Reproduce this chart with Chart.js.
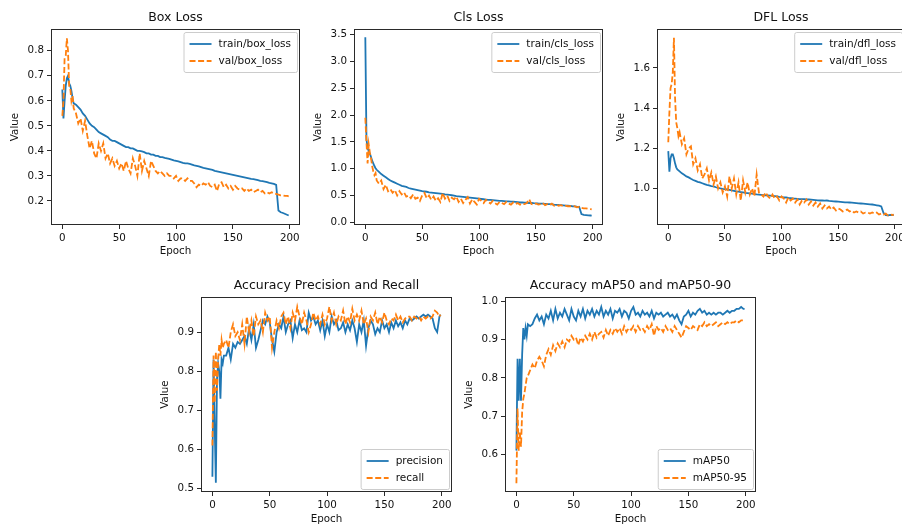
<!DOCTYPE html>
<html>
<head>
<meta charset="utf-8">
<script src="https://cdn.jsdelivr.net/npm/chart.js@4.4.1/dist/chart.umd.min.js"></script>
<style>
body { margin: 0; background: #fff; }
#figura { position: relative; width: 902px; height: 529px; overflow: hidden; background: #fff; }
#figura canvas { position: absolute; }
</style>
</head>
<body>
<div id="figura"></div>
<script>
// epocas leidas (cada una al inicio, luego cada 2)
var epochs = [0,1,2,3,4,5,6,7,8,9,10,
  12,14,16,18,20,22,24,26,28,30,
  32,34,36,38,40,42,44,46,48,50,
  52,54,56,58,60,62,64,66,68,70,
  72,74,76,78,80,82,84,86,88,90,
  92,94,96,98,100,102,104,106,108,110,
  112,114,116,118,120,122,124,126,128,130,
  132,134,136,138,140,142,144,146,148,150,
  152,154,156,158,160,162,164,166,168,170,
  172,174,176,178,180,182,184,186,188,190,
  192,194,196,198,199]

var train_box_loss = [0.645,0.53,0.60,0.66,0.69,0.70,0.67,0.66,0.64,0.61,0.59,
  0.585,0.575,0.565,0.55,0.54,0.525,0.51,0.50,0.495,0.485,
  0.475,0.47,0.465,0.46,0.455,0.445,0.44,0.44,0.435,0.43,
  0.425,0.42,0.415,0.415,0.41,0.41,0.405,0.40,0.40,0.398,
  0.395,0.39,0.39,0.385,0.385,0.38,0.38,0.375,0.375,0.372,
  0.37,0.368,0.365,0.362,0.36,0.358,0.355,0.352,0.35,0.35,
  0.348,0.345,0.342,0.34,0.338,0.335,0.332,0.33,0.328,0.326,
  0.324,0.32,0.318,0.316,0.314,0.312,0.31,0.308,0.306,0.304,
  0.302,0.30,0.298,0.296,0.294,0.292,0.29,0.288,0.287,0.285,
  0.283,0.28,0.279,0.277,0.275,0.272,0.27,0.268,0.264,0.162,
  0.155,0.152,0.148,0.144,0.142]
var val_box_loss = [0.54,0.60,0.77,0.78,0.85,0.80,0.66,0.65,0.60,0.62,0.57,
  0.55,0.51,0.53,0.48,0.52,0.46,0.41,0.44,0.39,0.37,
  0.43,0.40,0.43,0.37,0.39,0.35,0.37,0.34,0.36,0.33,
  0.35,0.32,0.36,0.33,0.31,0.37,0.34,0.30,0.39,0.32,
  0.36,0.33,0.30,0.36,0.34,0.32,0.31,0.32,0.31,0.30,
  0.31,0.30,0.30,0.29,0.30,0.28,0.29,0.29,0.28,0.29,
  0.28,0.28,0.27,0.255,0.265,0.26,0.27,0.265,0.275,0.26,
  0.255,0.265,0.24,0.27,0.275,0.255,0.265,0.25,0.26,0.245,
  0.26,0.25,0.245,0.25,0.24,0.25,0.24,0.245,0.235,0.24,
  0.245,0.235,0.24,0.23,0.235,0.23,0.235,0.23,0.228,0.225,
  0.222,0.222,0.22,0.22,0.218]

var train_cls_loss = [3.45,1.55,1.38,1.33,1.28,1.22,1.15,1.10,1.05,1.01,0.98,
  0.94,0.90,0.87,0.84,0.81,0.78,0.76,0.74,0.72,0.70,
  0.68,0.67,0.66,0.64,0.63,0.62,0.61,0.60,0.59,0.58,
  0.575,0.57,0.56,0.555,0.55,0.545,0.54,0.535,0.53,0.52,
  0.515,0.51,0.505,0.50,0.49,0.485,0.48,0.475,0.47,0.465,
  0.46,0.455,0.45,0.445,0.44,0.435,0.43,0.425,0.42,0.42,
  0.415,0.41,0.405,0.40,0.40,0.395,0.39,0.39,0.385,0.385,
  0.38,0.375,0.37,0.37,0.367,0.365,0.36,0.36,0.357,0.355,
  0.352,0.35,0.348,0.345,0.342,0.34,0.335,0.33,0.327,0.323,
  0.32,0.317,0.313,0.31,0.305,0.30,0.297,0.293,0.29,0.155,
  0.14,0.135,0.13,0.127,0.125]
var val_cls_loss = [1.95,1.5,1.1,1.45,1.3,1.2,1.05,0.95,0.88,0.92,0.78,
  0.72,0.78,0.62,0.7,0.58,0.62,0.55,0.6,0.5,0.58,
  0.52,0.56,0.48,0.5,0.45,0.52,0.44,0.46,0.4,0.5,
  0.55,0.45,0.5,0.42,0.48,0.4,0.45,0.38,0.55,0.44,
  0.5,0.4,0.46,0.43,0.48,0.38,0.44,0.36,0.42,0.47,
  0.35,0.43,0.38,0.33,0.44,0.4,0.36,0.42,0.38,0.35,
  0.4,0.36,0.33,0.38,0.36,0.34,0.38,0.35,0.33,0.37,
  0.34,0.36,0.33,0.35,0.34,0.36,0.43,0.34,0.33,0.35,
  0.33,0.34,0.36,0.32,0.34,0.32,0.35,0.31,0.33,0.31,
  0.32,0.30,0.31,0.3,0.3,0.29,0.3,0.28,0.29,0.27,
  0.26,0.26,0.25,0.245,0.24]

var train_dfl_loss = [1.186,1.084,1.15,1.17,1.17,1.15,1.125,1.105,1.095,1.09,1.085,
  1.075,1.068,1.06,1.055,1.048,1.042,1.038,1.033,1.03,1.026,
  1.022,1.018,1.015,1.012,1.01,1.006,1.003,1.0,0.998,0.997,
  0.995,0.993,0.99,0.988,0.985,0.984,0.982,0.98,0.978,0.977,
  0.975,0.974,0.972,0.97,0.969,0.968,0.967,0.966,0.965,0.964,
  0.963,0.962,0.96,0.958,0.957,0.956,0.955,0.953,0.952,0.95,
  0.949,0.948,0.947,0.947,0.947,0.946,0.945,0.944,0.943,0.942,
  0.941,0.94,0.94,0.939,0.94,0.938,0.937,0.936,0.935,0.934,
  0.933,0.932,0.931,0.931,0.93,0.929,0.928,0.927,0.926,0.925,
  0.924,0.923,0.922,0.921,0.92,0.918,0.916,0.914,0.91,0.878,
  0.867,0.866,0.868,0.867,0.868]
var val_dfl_loss = [1.23,1.38,1.50,1.52,1.58,1.75,1.45,1.33,1.30,1.26,1.28,
  1.22,1.25,1.17,1.2,1.21,1.12,1.15,1.09,1.12,1.05,
  1.07,1.1,1.04,1.08,1.02,1.06,1.0,1.03,0.98,1.01,
  0.96,1.06,1.0,1.05,0.97,1.03,0.94,1.04,0.98,1.03,
  0.97,1.0,0.96,1.07,0.98,0.97,0.96,0.98,0.96,0.95,
  0.97,0.95,0.96,0.94,0.96,0.95,0.93,0.955,0.94,0.95,
  0.93,0.945,0.92,0.94,0.93,0.945,0.92,0.935,0.915,0.93,
  0.91,0.925,0.9,0.915,0.9,0.91,0.895,0.905,0.89,0.9,
  0.895,0.885,0.89,0.895,0.885,0.89,0.88,0.885,0.88,0.885,
  0.875,0.88,0.88,0.875,0.88,0.875,0.88,0.87,0.875,0.87,
  0.875,0.865,0.87,0.868,0.87]

var precision = [0.53,0.83,0.66,0.515,0.78,0.82,0.80,0.73,0.83,0.82,0.84,
  0.84,0.86,0.83,0.87,0.86,0.875,0.87,0.88,0.89,0.87,
  0.91,0.88,0.92,0.86,0.88,0.905,0.93,0.92,0.94,0.925,
  0.88,0.85,0.9,0.92,0.91,0.94,0.9,0.92,0.93,0.885,
  0.92,0.9,0.93,0.905,0.91,0.9,0.95,0.93,0.94,0.92,
  0.93,0.905,0.93,0.89,0.92,0.9,0.94,0.92,0.93,0.905,
  0.91,0.925,0.9,0.92,0.905,0.93,0.91,0.875,0.92,0.9,
  0.93,0.865,0.91,0.93,0.92,0.895,0.91,0.9,0.93,0.91,
  0.92,0.9,0.925,0.91,0.93,0.915,0.925,0.91,0.93,0.92,
  0.935,0.93,0.935,0.94,0.935,0.94,0.945,0.94,0.945,0.94,
  0.935,0.91,0.90,0.94,0.945]
var recall = [0.61,0.84,0.72,0.85,0.75,0.83,0.87,0.84,0.88,0.86,0.87,
  0.88,0.86,0.9,0.92,0.89,0.9,0.88,0.92,0.87,0.94,
  0.9,0.93,0.89,0.94,0.92,0.93,0.9,0.95,0.93,0.94,
  0.86,0.9,0.93,0.91,0.94,0.95,0.92,0.94,0.91,0.95,
  0.93,0.965,0.94,0.92,0.95,0.93,0.9,0.92,0.95,0.93,
  0.94,0.92,0.945,0.92,0.935,0.965,0.93,0.95,0.92,0.94,
  0.93,0.955,0.92,0.94,0.925,0.96,0.93,0.945,0.93,0.955,
  0.92,0.935,0.9,0.94,0.93,0.95,0.92,0.94,0.925,0.95,
  0.93,0.92,0.935,0.93,0.945,0.93,0.94,0.925,0.935,0.94,
  0.94,0.93,0.94,0.935,0.94,0.93,0.94,0.935,0.94,0.935,
  0.94,0.955,0.95,0.94,0.945]

var map50 = [0.61,0.85,0.74,0.85,0.74,0.86,0.93,0.90,0.93,0.91,0.94,
  0.935,0.94,0.955,0.965,0.95,0.96,0.94,0.965,0.955,0.975,
  0.95,0.98,0.955,0.97,0.96,0.98,0.965,0.95,0.98,0.96,
  0.95,0.975,0.96,0.98,0.955,0.975,0.965,0.98,0.96,0.975,
  0.965,0.985,0.96,0.975,0.965,0.98,0.955,0.975,0.97,0.98,
  0.96,0.975,0.97,0.955,0.975,0.985,0.965,0.97,0.96,0.975,
  0.965,0.97,0.96,0.975,0.955,0.97,0.965,0.97,0.96,0.965,
  0.97,0.96,0.965,0.955,0.965,0.95,0.94,0.96,0.965,0.975,
  0.96,0.97,0.965,0.975,0.98,0.97,0.975,0.965,0.97,0.965,
  0.97,0.965,0.97,0.97,0.965,0.97,0.975,0.97,0.975,0.975,
  0.98,0.98,0.985,0.98,0.98]
var map50_95 = [0.525,0.72,0.61,0.66,0.62,0.71,0.745,0.76,0.78,0.80,0.805,
  0.82,0.835,0.825,0.845,0.855,0.845,0.83,0.86,0.875,0.86,
  0.885,0.87,0.89,0.88,0.895,0.88,0.9,0.895,0.91,0.9,
  0.905,0.885,0.905,0.895,0.91,0.9,0.915,0.9,0.92,0.905,
  0.915,0.92,0.905,0.925,0.91,0.925,0.915,0.93,0.92,0.93,
  0.915,0.935,0.92,0.93,0.925,0.935,0.92,0.935,0.925,0.93,
  0.92,0.935,0.925,0.94,0.91,0.935,0.925,0.93,0.92,0.935,
  0.925,0.93,0.92,0.935,0.925,0.915,0.905,0.92,0.935,0.93,
  0.925,0.935,0.93,0.925,0.94,0.935,0.945,0.935,0.94,0.935,
  0.94,0.945,0.935,0.94,0.945,0.94,0.945,0.94,0.945,0.945,
  0.95,0.945,0.95,0.95,0.95]

var ticks_epoch = [0, 50, 100, 150, 200]
var ticks_box = [0.2, 0.3, 0.4, 0.5, 0.6, 0.7, 0.8]
var ticks_cls = [0.0, 0.5, 1.0, 1.5, 2.0, 2.5, 3.0, 3.5]
var ticks_dfl = [1.0, 1.2, 1.4, 1.6]
var ticks_pr = [0.5, 0.6, 0.7, 0.8, 0.9]
var ticks_map = [0.6, 0.7, 0.8, 0.9, 1.0]

var fuente = '"DejaVu Sans", sans-serif'
var azul = '#1f77b4', naranja = '#ff7f0e'
var color_texto = '#111'
var color_eje = '#2a2a2a'
var ancho_y = 42, alto_titulo = 21, margen_der = 22

// marco completo y leyenda dentro del area, al estilo matplotlib
var marco_leyenda = {
  id: 'marco_leyenda',
  afterDatasetsDraw: function (chart, args, opts) {
    var ctx = chart.ctx, area = chart.chartArea
    ctx.save()
    ctx.strokeStyle = color_eje
    ctx.lineWidth = 1
    ctx.strokeRect(Math.round(area.left) + 0.5, Math.round(area.top) + 0.5,
      Math.round(area.right - area.left) - 1, Math.round(area.bottom - area.top) - 1)

    var sets = chart.data.datasets
    ctx.font = '10.5px ' + fuente
    var texto_max = 0
    sets.forEach(function (d) { texto_max = Math.max(texto_max, ctx.measureText(d.label).width) })
    var w = 6 + 22 + 7 + texto_max + 6, h = 40
    var x0 = area.right - 3 - w
    var y0 = opts.abajo ? area.bottom - 3 - h : area.top + 3
    ctx.beginPath()
    ctx.roundRect(x0 + 0.5, y0 + 0.5, w, h, 2)
    ctx.fillStyle = 'rgba(255,255,255,0.8)'
    ctx.fill()
    ctx.strokeStyle = '#cccccc'
    ctx.stroke()
    sets.forEach(function (d, i) {
      var y = y0 + 12 + i * 17
      ctx.beginPath()
      ctx.setLineDash(d.borderDash || [])
      ctx.strokeStyle = d.borderColor
      ctx.lineWidth = d.borderWidth
      ctx.moveTo(x0 + 6, y)
      ctx.lineTo(x0 + 28, y)
      ctx.stroke()
      ctx.setLineDash([])
      ctx.fillStyle = color_texto
      ctx.textBaseline = 'middle'
      ctx.fillText(d.label, x0 + 35, y + 0.5)
    })
    ctx.restore()
  }
}

function puntos(ys) {
  return epochs.map(function (e, i) { return { x: e, y: ys[i] } })
}

function crear_grafica({titulo, eje, serie_a, serie_b, etiqueta_a, etiqueta_b, ticks_y, y_min, y_max, abajo, alto_x}) {
  var lienzo = document.createElement('canvas')
  var ancho = ancho_y + (eje.der - eje.izq) + margen_der
  var alto = alto_titulo + (eje.aba - eje.arr) + alto_x
  lienzo.width = ancho
  lienzo.height = alto
  lienzo.style.left = (eje.izq - ancho_y) + 'px'
  lienzo.style.top = (eje.arr - alto_titulo) + 'px'
  lienzo.style.width = ancho + 'px'
  lienzo.style.height = alto + 'px'
  document.getElementById('figura').appendChild(lienzo)

  var letra = { family: fuente, size: 10.3 }
  return new Chart(lienzo, {
    type: 'line',
    data: {
      datasets: [
        { label: etiqueta_a, data: puntos(serie_a), borderColor: azul, borderWidth: 1.8, order: 2 },
        { label: etiqueta_b, data: puntos(serie_b), borderColor: naranja, borderWidth: 1.8, borderDash: [6, 2.6], order: 1 }
      ]
    },
    options: {
      responsive: false,
      devicePixelRatio: 1,
      animation: false,
      layout: { padding: { left: 0, top: 0, right: margen_der, bottom: 0 } },
      elements: { point: { radius: 0 }, line: { tension: 0 } },
      scales: {
        x: {
          type: 'linear', min: -9.95, max: 208.95,
          afterBuildTicks: function (s) { s.ticks = ticks_epoch.map(function (v) { return { value: v } }) },
          afterFit: function (s) { s.height = alto_x },
          ticks: { color: color_texto, font: letra, padding: 3, maxRotation: 0, autoSkip: false },
          grid: { drawOnChartArea: false, drawTicks: true, tickLength: 4, tickColor: color_eje },
          border: { display: false },
          title: { display: true, text: 'Epoch', color: color_texto, font: letra, padding: 0 }
        },
        y: {
          type: 'linear', min: y_min, max: y_max,
          afterBuildTicks: function (s) { s.ticks = ticks_y.map(function (v) { return { value: v } }) },
          afterFit: function (s) { s.width = ancho_y },
          ticks: { color: color_texto, font: letra, padding: 3, autoSkip: false,
            callback: function (v) { return v.toFixed(1) } },
          grid: { drawOnChartArea: false, drawTicks: true, tickLength: 4, tickColor: color_eje },
          border: { display: false },
          title: { display: true, text: 'Value', color: color_texto, font: letra, padding: 0 }
        }
      },
      plugins: {
        legend: { display: false },
        tooltip: { enabled: false },
        title: {
          display: true, text: titulo, fullSize: false, color: color_texto,
          font: { family: fuente, size: 12.5, weight: 'normal' },
          padding: { top: 2, bottom: 4 }
        },
        marco_leyenda: { abajo: abajo }
      }
    },
    plugins: [marco_leyenda]
  })
}

crear_grafica({ titulo: 'Box Loss', eje: { izq: 51, arr: 29, der: 300, aba: 225 },
  serie_a: train_box_loss, serie_b: val_box_loss, etiqueta_a: 'train/box_loss', etiqueta_b: 'val/box_loss',
  ticks_y: ticks_box, y_min: 0.104, y_max: 0.887, abajo: false, alto_x: 33 })
crear_grafica({ titulo: 'Cls Loss', eje: { izq: 354, arr: 29, der: 603, aba: 225 },
  serie_a: train_cls_loss, serie_b: val_cls_loss, etiqueta_a: 'train/cls_loss', etiqueta_b: 'val/cls_loss',
  ticks_y: ticks_cls, y_min: -0.05, y_max: 3.606, abajo: false, alto_x: 33 })
crear_grafica({ titulo: 'DFL Loss', eje: { izq: 657, arr: 29, der: 905, aba: 225 },
  serie_a: train_dfl_loss, serie_b: val_dfl_loss, etiqueta_a: 'train/dfl_loss', etiqueta_b: 'val/dfl_loss',
  ticks_y: ticks_dfl, y_min: 0.818, y_max: 1.794, abajo: false, alto_x: 33 })
crear_grafica({ titulo: 'Accuracy Precision and Recall', eje: { izq: 201, arr: 297, der: 452, aba: 492 },
  serie_a: precision, serie_b: recall, etiqueta_a: 'precision', etiqueta_b: 'recall',
  ticks_y: ticks_pr, y_min: 0.491, y_max: 0.99, abajo: true, alto_x: 34 })
crear_grafica({ titulo: 'Accuracy mAP50 and mAP50-90', eje: { izq: 505, arr: 297, der: 756, aba: 492 },
  serie_a: map50, serie_b: map50_95, etiqueta_a: 'mAP50', etiqueta_b: 'mAP50-95',
  ticks_y: ticks_map, y_min: 0.502, y_max: 1.011, abajo: true, alto_x: 34 })
</script>
</body>
</html>
